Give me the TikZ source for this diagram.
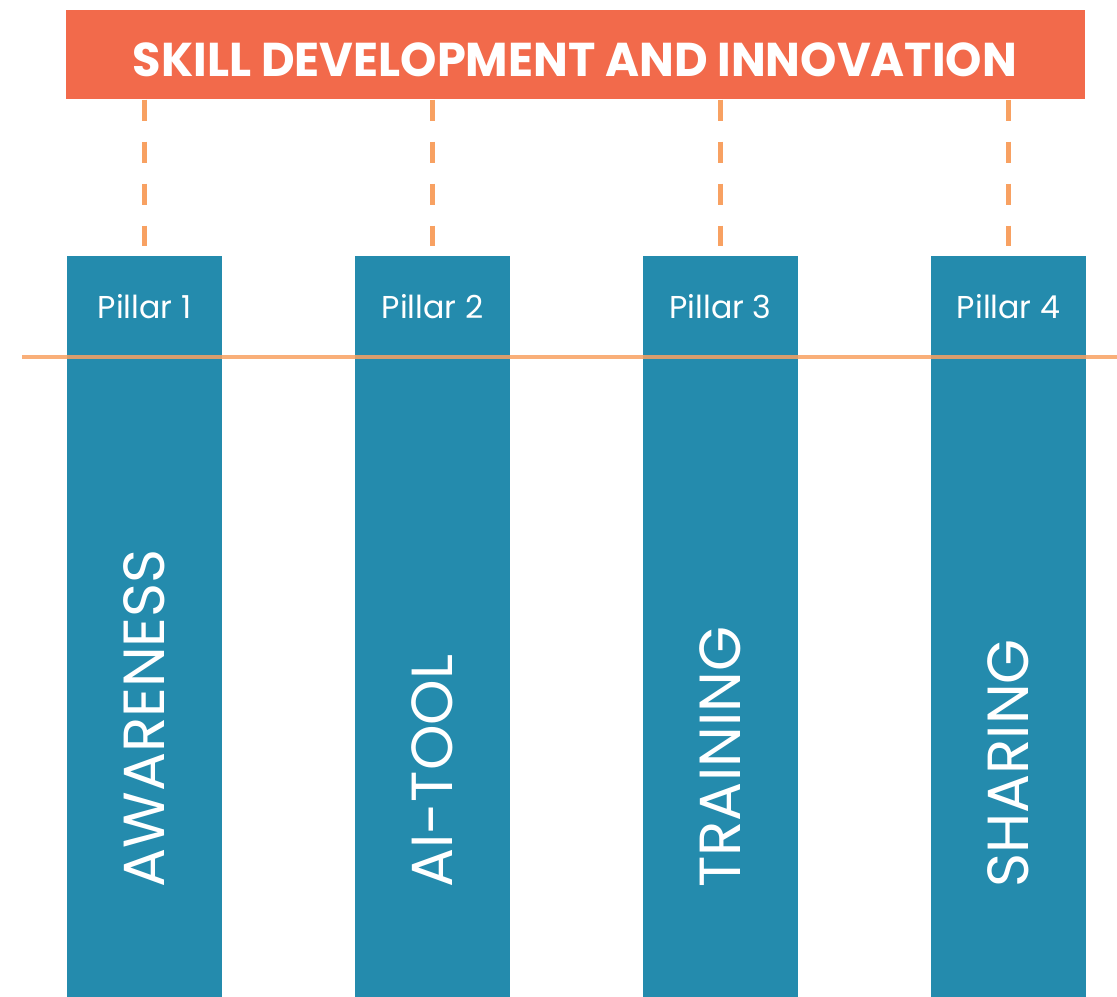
\documentclass[tikz,border=0pt]{standalone}
\usepackage{fontspec}
\setmainfont{Poppins}
\usetikzlibrary{positioning}
\definecolor{bannerred}{HTML}{F26A4B}
\definecolor{pillarblue}{HTML}{248BAD}
\definecolor{ruleorange}{HTML}{F8A162}

\begin{document}
\begin{tikzpicture}[x=0.02cm,y=-0.02cm,every node/.style={inner sep=0pt},
           titlebox/.style={fill=bannerred,minimum width=20.38cm,minimum height=1.78cm},
           pillarbox/.style={fill=pillarblue,minimum width=3.1cm,minimum height=14.82cm},
           link/.style={ruleorange,line width=2.3pt,dash pattern=on 0.42cm off 0.42cm,shorten >=0.2cm}]
           \useasboundingbox(0,0)rectangle(1117,997);
           \node[titlebox,anchor=north west](title)at(66,10){};
           \node[text=white,font=\bfseries\fontsize{27}{30}\selectfont](titletext)at(575,60)
             {\scalebox{0.975}[1]{SKILL DEVELOPMENT AND INNOVATION}};
           \foreach \i/\x/\w in {1/144.5/AWARENESS,2/432.5/AI-TOOL,3/720.5/TRAINING,4/1008.5/SHARING}{
             \node[pillarbox,anchor=north](p\i)at(\x,256){};
             \node[text=white,font=\fontsize{18}{20}\selectfont](l\i)at(\x,307){Pillar \i};
             \node[text=white,font=\fontsize{33}{36}\selectfont,rotate=90,anchor=west](w\i)at(\x,888){\w};
             \draw[link](title.south-|p\i.north)--(p\i.north);
           }
           \coordinate(rl)at(22,357);
           \coordinate(rr)at(1117,357);
           \draw[ruleorange,line width=2.3pt,opacity=0.85](rl)--(rr);
         \end{tikzpicture}
\end{document}
